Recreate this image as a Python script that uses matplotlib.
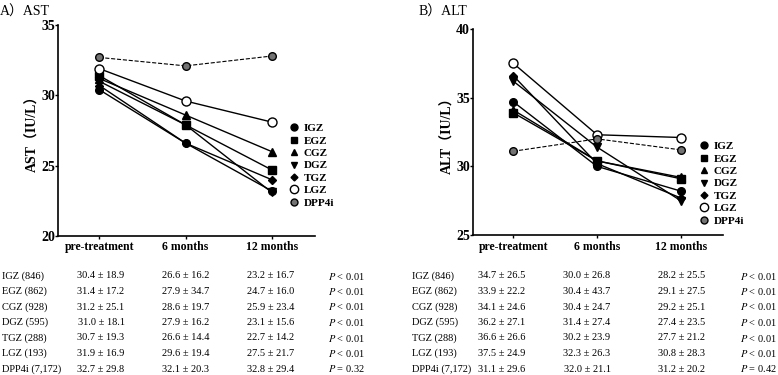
import matplotlib
matplotlib.use('Agg')
import matplotlib.pyplot as plt
from matplotlib.lines import Line2D

plt.rcParams['font.family'] = ['Liberation Serif', 'Noto Sans CJK SC']
plt.rcParams['mathtext.fontset'] = 'stix'

timepoints = ['pre-treatment', '6 months', '12 months']
groups = ['IGZ', 'EGZ', 'CGZ', 'DGZ', 'TGZ', 'LGZ', 'DPP4i']
group_n = ['846', '862', '928', '595', '288', '193', '7,172']

# values as drawn in the line charts
ast_plot = [[30.4, 26.6, 23.2], [31.4, 27.9, 24.7], [31.2, 28.6, 26.0],
            [31.0, 27.9, 23.1], [30.7, 26.6, 24.0], [31.9, 29.6, 28.1],
            [32.7, 32.1, 32.8]]
alt_plot = [[34.7, 30.0, 28.2], [33.9, 30.4, 29.1], [34.1, 30.4, 29.2],
            [36.2, 31.4, 27.5], [36.6, 30.2, 27.7], [37.5, 32.3, 32.1],
            [31.1, 32.0, 31.2]]

# values printed in the tables
ast_mean = [[30.4, 26.6, 23.2], [31.4, 27.9, 24.7], [31.2, 28.6, 25.9],
            [31.0, 27.9, 23.1], [30.7, 26.6, 22.7], [31.9, 29.6, 27.5],
            [32.7, 32.1, 32.8]]
ast_sd = [[18.9, 16.2, 16.7], [17.2, 34.7, 16.0], [25.1, 19.7, 23.4],
          [18.1, 16.2, 15.6], [19.3, 14.4, 14.2], [16.9, 19.4, 21.7],
          [29.8, 20.3, 29.4]]
ast_p = ['< 0.01'] * 6 + ['= 0.32']

alt_mean = [[34.7, 30.0, 28.2], [33.9, 30.4, 29.1], [34.1, 30.4, 29.2],
            [36.2, 31.4, 27.4], [36.6, 30.2, 27.7], [37.5, 32.3, 30.8],
            [31.1, 32.0, 31.2]]
alt_sd = [[26.5, 26.8, 25.5], [22.2, 43.7, 27.5], [24.6, 24.7, 25.1],
          [27.1, 27.4, 23.5], [26.6, 23.9, 21.2], [24.9, 26.3, 28.3],
          [29.6, 21.1, 20.2]]
alt_p = ['< 0.01'] * 6 + ['= 0.42']

# marker style per group
styles = {
    'IGZ': dict(marker='o', mfc='black', ms=5.5),
    'EGZ': dict(marker='s', mfc='black', ms=5.5),
    'CGZ': dict(marker='^', mfc='black', ms=5.5),
    'DGZ': dict(marker='v', mfc='black', ms=5.5),
    'TGZ': dict(marker='D', mfc='black', ms=4),
    'LGZ': dict(marker='o', mfc='white', ms=6.5),
    'DPP4i': dict(marker='o', mfc='0.45', ms=5.5),
}

fig = plt.figure(figsize=(7.78, 3.75), dpi=100)


def draw_panel(rect, means, ylim, ylabel, leg_anchor):
    ax = fig.add_axes(rect)
    x = range(len(timepoints))
    for g, m in zip(groups, means):
        st = styles[g]
        ls = '--' if g == 'DPP4i' else '-'
        lw = 0.8 if g == 'DPP4i' else 1.0
        ax.plot(x, m, color='black', linestyle=ls, linewidth=lw,
                marker=st['marker'], markersize=st['ms'],
                markerfacecolor=st['mfc'], markeredgecolor='black',
                markeredgewidth=1.0, zorder=3)
    ax.set_xlim(-0.48, 2.5)
    ax.set_ylim(*ylim)
    ax.set_yticks(range(ylim[0], ylim[1] + 1, 5))
    ax.set_xticks(list(x))
    ax.set_xticklabels(timepoints, fontweight='bold', fontsize=8.5)
    for lab in ax.get_yticklabels():
        lab.set_fontweight('bold')
        lab.set_fontsize(10)
    ax.set_ylabel(ylabel, fontweight='bold', fontsize=10, labelpad=1)
    ax.spines['top'].set_visible(False)
    ax.spines['right'].set_visible(False)
    ax.spines['left'].set_linewidth(1.2)
    ax.spines['bottom'].set_linewidth(1.2)
    ax.tick_params(axis='x', direction='out', length=2.5, width=1, pad=1.5)
    ax.tick_params(axis='y', direction='out', length=2, width=1, pad=0.3)
    handles = [Line2D([], [], linestyle='none', color='black',
                      marker=styles[g]['marker'], markersize=styles[g]['ms'] - 0.5,
                      markerfacecolor=styles[g]['mfc'], markeredgecolor='black')
               for g in groups]
    ax.legend(handles, groups, loc='upper left', bbox_to_anchor=leg_anchor,
              bbox_transform=fig.transFigure, frameon=False,
              handlelength=0.8, handletextpad=0.5, labelspacing=0.24,
              borderaxespad=0, prop={'weight': 'bold', 'size': 8})
    return ax


draw_panel([0.0746, 0.371, 0.330, 0.562], ast_plot, (20, 35), 'AST（IU/L）',
           (0.366, 0.683))
draw_panel([0.608, 0.373, 0.321, 0.550], alt_plot, (25, 40), 'ALT（IU/L）',
           (0.893, 0.635))

fig.text(0.0, 0.985, 'A）AST', fontsize=10, va='top', ha='left')
fig.text(0.538, 0.985, 'B）ALT', fontsize=10, va='top', ha='left')


def draw_table(x_label, x_cols, x_p, p_ha, means, sds, pvals):
    for i, g in enumerate(groups):
        y = 1 - (276 + i * 15.5) / 375
        fig.text(x_label / 778, y, f'{g} ({group_n[i]})', fontsize=7.5,
                 va='center')
        for j in range(3):
            fig.text(x_cols[j] / 778, y, f'{means[i][j]:.1f} ± {sds[i][j]:.1f}',
                     fontsize=7.5, va='center', ha='center')
        fig.text(x_p / 778, y, f'$P$ {pvals[i]}', fontsize=7.5, va='center',
                 ha=p_ha)


draw_table(2, [101, 186, 271], 328, 'left', ast_mean, ast_sd, ast_p)
draw_table(412, [502, 587, 682], 777, 'right', alt_mean, alt_sd, alt_p)

fig.savefig('out.png', dpi=100)
